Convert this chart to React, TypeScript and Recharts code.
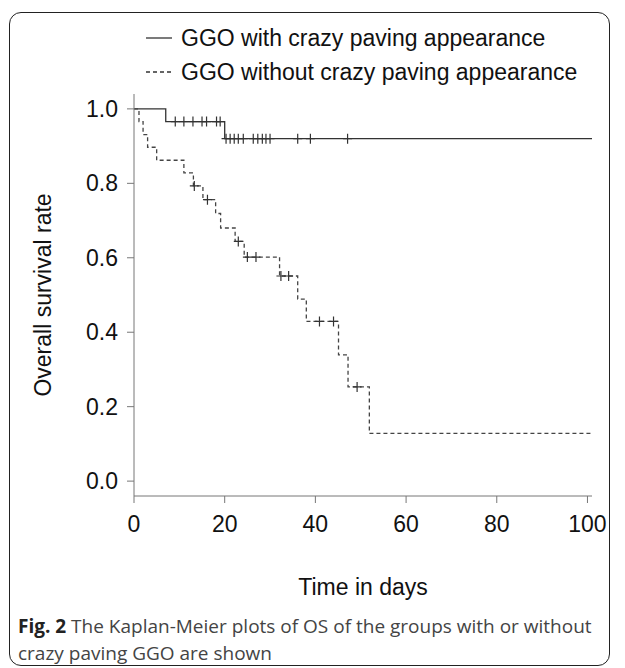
import React from "react";
import { ComposedChart, Line, Scatter, XAxis, YAxis, Legend } from "recharts";

// Kaplan-Meier curves (days, survival)
const withDays = [0, 7, 20, 101];
const withSurv = [1, 0.966, 0.92, 0.92];
const withCensorDays = [9.1, 11, 13, 15, 16, 18.2, 19, 20.3, 21.2, 22.1, 23, 24.1, 26.3, 27.3, 28.3, 29.1, 30, 36.1, 38.9, 47.1];
const withCensorSurv = [0.966, 0.966, 0.966, 0.966, 0.966, 0.966, 0.966, 0.92, 0.92, 0.92, 0.92, 0.92, 0.92, 0.92, 0.92, 0.92, 0.92, 0.92, 0.92, 0.92];

const withoutDays = [0, 1.1, 2, 3, 5, 11, 13.1, 15.2, 18, 19.1, 22.3, 24.3, 32.1, 36.1, 38, 45.1, 47.2, 51.9, 101];
const withoutSurv = [1, 0.966, 0.931, 0.897, 0.862, 0.828, 0.793, 0.756, 0.719, 0.68, 0.644, 0.602, 0.551, 0.489, 0.429, 0.339, 0.253, 0.128, 0.128];
const withoutCensorDays = [13.3, 16.2, 23, 25, 26.9, 32.4, 34.1, 40.9, 44, 49.2];
const withoutCensorSurv = [0.793, 0.756, 0.644, 0.602, 0.602, 0.551, 0.551, 0.429, 0.429, 0.253];

const xTicks = [0, 20, 40, 60, 80, 100];
const yTicks = [0, 0.2, 0.4, 0.6, 0.8, 1.0];
const seriesNames = ["GGO with crazy paving appearance", "GGO without crazy paving appearance"];

const rows = (t: number[], s: number[]) => t.map((d, i) => ({ t: d, s: s[i] }));

const FONT = "'Liberation Sans', Arial, sans-serif";

function CensorMark(props: any) {
  const { cx, cy } = props;
  if (cx == null || cy == null) return null;
  return <path d={`M${cx - 4.5},${cy}h9M${cx},${cy - 5}v10`} stroke="#333" strokeWidth={1.2} fill="none" />;
}

function LegendBox() {
  return (
    <div style={{ fontFamily: FONT, fontSize: 23, color: "#111" }}>
      {seriesNames.map((name, i) => (
        <div key={name} style={{ display: "flex", alignItems: "center", height: 34 }}>
          <svg width={38} height={10} style={{ marginRight: 2 }}>
            <line x1={5} y1={5} x2={31} y2={5} stroke="#333" strokeWidth={1.3} strokeDasharray={i === 1 ? "4 3" : undefined} />
          </svg>
          <span>{name}</span>
        </div>
      ))}
    </div>
  );
}

export default function App() {
  return (
    <div style={{ position: "absolute", left: 0, top: 0, width: 625, height: 668, background: "#fff", overflow: "hidden" }}>
      <div
        style={{
          position: "absolute",
          left: 9,
          top: 12,
          width: 601,
          height: 654,
          border: "1.5px solid #222",
          borderRadius: 12,
          boxSizing: "border-box",
        }}
      />
      <div style={{ position: "absolute", left: 0, top: 0 }}>
        <ComposedChart width={625} height={610} margin={{ top: 94, right: 33, bottom: 0, left: 34 }}>
          <XAxis
            dataKey="t"
            type="number"
            domain={[0, 101]}
            ticks={xTicks}
            allowDataOverflow
            height={114}
            tickSize={7}
            tickMargin={13}
            stroke="#777"
            tick={{ fill: "#111", fontSize: 23, fontFamily: FONT }}
            label={{ value: "Time in days", position: "insideBottom", offset: 15, fill: "#111", fontSize: 23, fontFamily: FONT }}
          />
          <YAxis
            type="number"
            domain={[-0.04, 1.04]}
            ticks={yTicks}
            allowDataOverflow
            width={100}
            tickSize={7}
            tickMargin={9}
            stroke="#777"
            tickFormatter={(v: number) => v.toFixed(1)}
            tick={{ fill: "#111", fontSize: 23, fontFamily: FONT }}
            label={{
              value: "Overall survival rate",
              angle: -90,
              position: "insideLeft",
              offset: 9,
              fill: "#111",
              fontSize: 23,
              fontFamily: FONT,
              style: { textAnchor: "middle" },
            }}
          />
          <Legend
            layout="vertical"
            verticalAlign="middle"
            align="center"
            content={() => <LegendBox />}
            wrapperStyle={{ top: 21, left: 141, width: 470 }}
          />
          <Line
            data={rows(withDays, withSurv)}
            dataKey="s"
            type="stepAfter"
            stroke="#333"
            strokeWidth={1.3}
            dot={false}
            isAnimationActive={false}
          />
          <Line
            data={rows(withoutDays, withoutSurv)}
            dataKey="s"
            type="stepAfter"
            stroke="#444"
            strokeWidth={1.3}
            strokeDasharray="4 3"
            dot={false}
            isAnimationActive={false}
          />
          <Scatter data={rows(withCensorDays, withCensorSurv)} dataKey="s" shape={CensorMark} isAnimationActive={false} />
          <Scatter data={rows(withoutCensorDays, withoutCensorSurv)} dataKey="s" shape={CensorMark} isAnimationActive={false} />
        </ComposedChart>
      </div>
      <div
        style={{
          position: "absolute",
          left: 18,
          top: 613,
          width: 590,
          fontFamily: "'Open Sans', sans-serif",
          fontSize: 19,
          lineHeight: "27px",
          color: "#444",
          whiteSpace: "nowrap",
        }}
      >
        <div>
          <span style={{ fontWeight: 700, color: "#222" }}>Fig. 2</span>
          <span> The Kaplan-Meier plots of OS of the groups with or without</span>
        </div>
        <div>crazy paving GGO are shown</div>
      </div>
    </div>
  );
}
